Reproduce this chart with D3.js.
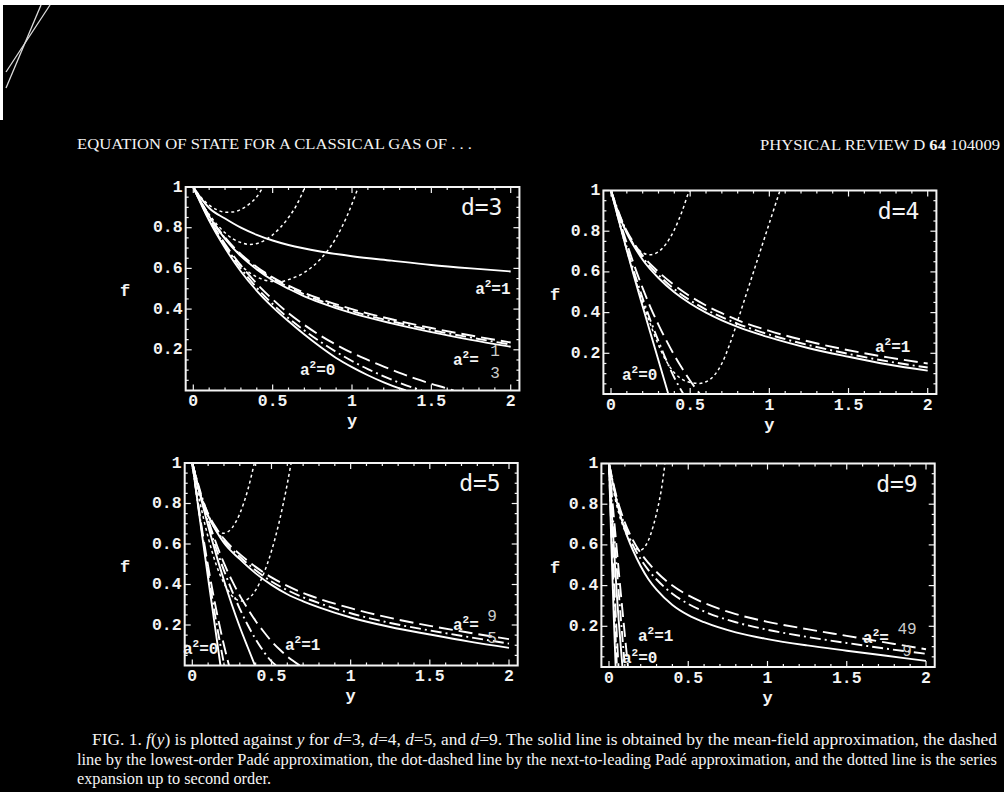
<!DOCTYPE html>
<html><head><meta charset="utf-8">
<script src="https://cdn.jsdelivr.net/npm/d3@7"></script>
<style>html,body{margin:0;padding:0;background:#000;}svg{display:block}</style>
</head><body>
<svg id="c" width="1004" height="792"></svg>
<script>
// ---------- DATA ----------
const panelNames = ["d=3", "d=4", "d=5", "d=9"];
const xTicks = [0, 0.5, 1, 1.5, 2];
const xTickLabels = ["0", "0.5", "1", "1.5", "2"];
const yTicks = [0.2, 0.4, 0.6, 0.8, 1];
const yTickLabels = ["0.2", "0.4", "0.6", "0.8", "1"];

// d = 3
const d3_a1_solid = [[0,1],[0.05,0.943],[0.1,0.897],[0.2,0.845],[0.3,0.8],[0.4,0.765],[0.5,0.737],[0.6,0.715],[0.8,0.683],[1,0.66],[1.25,0.638],[1.5,0.617],[1.75,0.6],[2,0.585]];
const d3_a1_series = [[0,1],[0.05,0.948],[0.1,0.911],[0.15,0.888],[0.2,0.876],[0.25,0.877],[0.3,0.89],[0.35,0.915],[0.4,0.952],[0.44,1]];
const d3_a13_solid = [[0,1],[0.05,0.923],[0.1,0.855],[0.2,0.745],[0.3,0.66],[0.4,0.595],[0.5,0.542],[0.6,0.5],[0.7,0.463],[0.8,0.432],[1,0.38],[1.25,0.33],[1.5,0.287],[1.75,0.249],[2,0.215]];
const d3_a13_dash = [[0,1],[0.1,0.858],[0.2,0.752],[0.3,0.67],[0.4,0.607],[0.5,0.556],[0.6,0.515],[0.7,0.48],[0.8,0.45],[1,0.4],[1.25,0.35],[1.5,0.307],[1.75,0.27],[2,0.236]];
const d3_a13_dotdash = [[0,1],[0.1,0.857],[0.2,0.748],[0.3,0.665],[0.4,0.601],[0.5,0.55],[0.6,0.508],[0.7,0.472],[0.8,0.441],[1,0.39],[1.25,0.34],[1.5,0.297],[1.75,0.26],[2,0.226]];
const d3_a13_series = [[0,1],[0.05,0.925],[0.1,0.865],[0.15,0.815],[0.2,0.775],[0.25,0.745],[0.3,0.727],[0.357,0.718],[0.42,0.727],[0.5,0.765],[0.6,0.85],[0.65,0.91],[0.704,1]];
const d3_a0_solid = [[0,1],[0.05,0.915],[0.1,0.835],[0.2,0.7],[0.3,0.585],[0.4,0.49],[0.5,0.41],[0.6,0.34],[0.7,0.275],[0.8,0.215],[0.9,0.16],[1,0.115],[1.1,0.075],[1.2,0.04],[1.3,0.01],[1.34,0]];
const d3_a0_dotdash = [[0,1],[0.1,0.84],[0.2,0.71],[0.3,0.6],[0.4,0.505],[0.5,0.425],[0.6,0.355],[0.7,0.295],[0.8,0.24],[0.9,0.19],[1,0.145],[1.1,0.105],[1.2,0.07],[1.3,0.038],[1.4,0.01],[1.44,0]];
const d3_a0_dash = [[0,1],[0.1,0.845],[0.2,0.72],[0.3,0.615],[0.4,0.525],[0.5,0.448],[0.6,0.38],[0.7,0.322],[0.8,0.27],[0.9,0.225],[1,0.185],[1.1,0.15],[1.2,0.117],[1.3,0.087],[1.4,0.058],[1.5,0.033],[1.6,0.01],[1.64,0]];
const d3_a0_series = [[0,1],[0.1,0.84],[0.2,0.71],[0.3,0.615],[0.4,0.558],[0.5,0.536],[0.55,0.535],[0.6,0.545],[0.7,0.58],[0.8,0.645],[0.9,0.75],[0.97,0.86],[1.04,1]];

// d = 4
const d4_a1_solid = [[0,1],[0.05,0.88],[0.1,0.79],[0.15,0.72],[0.2,0.66],[0.3,0.57],[0.4,0.5],[0.5,0.445],[0.6,0.4],[0.7,0.362],[0.8,0.33],[1,0.278],[1.25,0.225],[1.5,0.183],[1.75,0.145],[2,0.115]];
const d4_a1_dash = [[0,1],[0.05,0.885],[0.1,0.8],[0.15,0.735],[0.2,0.68],[0.3,0.6],[0.4,0.535],[0.5,0.48],[0.6,0.435],[0.7,0.397],[0.8,0.363],[1,0.31],[1.25,0.258],[1.5,0.215],[1.75,0.18],[2,0.15]];
const d4_a1_dotdash = [[0,1],[0.1,0.795],[0.2,0.67],[0.3,0.585],[0.4,0.515],[0.5,0.46],[0.6,0.415],[0.8,0.345],[1,0.292],[1.25,0.24],[1.5,0.197],[1.75,0.16],[2,0.13]];
const d4_a1_series = [[0,1],[0.05,0.885],[0.1,0.795],[0.15,0.73],[0.2,0.694],[0.246,0.684],[0.3,0.699],[0.35,0.74],[0.4,0.807],[0.45,0.9],[0.49,0.99],[0.495,1]];
const d4_a0_solid = [[0,1],[0.05,0.85],[0.1,0.705],[0.15,0.565],[0.2,0.43],[0.25,0.297],[0.3,0.165],[0.362,0]];
const d4_a0_dotdash = [[0,1],[0.05,0.855],[0.1,0.72],[0.15,0.59],[0.2,0.47],[0.25,0.36],[0.3,0.26],[0.35,0.165],[0.4,0.08],[0.457,0]];
const d4_a0_dash = [[0,1],[0.05,0.865],[0.1,0.74],[0.15,0.625],[0.2,0.52],[0.25,0.425],[0.3,0.34],[0.35,0.262],[0.4,0.19],[0.45,0.125],[0.5,0.065],[0.562,0]];
const d4_a0_series = [[0,1],[0.1,0.705],[0.2,0.45],[0.25,0.34],[0.3,0.24],[0.35,0.16],[0.4,0.105],[0.45,0.072],[0.5,0.057],[0.56,0.052],[0.6,0.06],[0.65,0.09],[0.7,0.15],[0.75,0.245],[0.8,0.36],[0.85,0.48],[0.9,0.6],[0.95,0.72],[1,0.84],[1.067,1]];

// d = 5
const d5_a95_solid = [[0,1],[0.05,0.845],[0.1,0.74],[0.15,0.665],[0.2,0.605],[0.3,0.525],[0.4,0.455],[0.5,0.398],[0.6,0.352],[0.7,0.317],[0.8,0.287],[1,0.237],[1.25,0.19],[1.5,0.153],[1.75,0.118],[2,0.087]];
const d5_a95_dash = [[0,1],[0.05,0.85],[0.1,0.75],[0.15,0.68],[0.2,0.625],[0.3,0.55],[0.4,0.487],[0.5,0.435],[0.6,0.393],[0.7,0.358],[0.8,0.33],[1,0.283],[1.25,0.235],[1.5,0.196],[1.75,0.162],[2,0.13]];
const d5_a95_dotdash = [[0,1],[0.1,0.745],[0.2,0.615],[0.3,0.537],[0.4,0.47],[0.5,0.415],[0.6,0.372],[0.7,0.337],[0.8,0.308],[1,0.258],[1.25,0.21],[1.5,0.173],[1.75,0.14],[2,0.108]];
const d5_a95_series = [[0,1],[0.05,0.846],[0.1,0.736],[0.15,0.672],[0.196,0.653],[0.25,0.679],[0.3,0.75],[0.35,0.866],[0.392,1]];
const d5_a1_solid = [[0,1],[0.05,0.84],[0.1,0.69],[0.15,0.55],[0.2,0.42],[0.25,0.3],[0.3,0.19],[0.35,0.09],[0.396,0]];
const d5_a1_dotdash = [[0,1],[0.05,0.845],[0.1,0.705],[0.15,0.58],[0.2,0.47],[0.25,0.37],[0.3,0.28],[0.35,0.2],[0.4,0.13],[0.45,0.07],[0.5,0.02],[0.53,0]];
const d5_a1_dash = [[0,1],[0.05,0.85],[0.1,0.72],[0.15,0.605],[0.2,0.505],[0.25,0.42],[0.3,0.345],[0.35,0.28],[0.4,0.22],[0.45,0.168],[0.5,0.12],[0.55,0.08],[0.6,0.045],[0.68,0]];
const d5_a1_series = [[0,1],[0.05,0.8],[0.1,0.633],[0.15,0.5],[0.2,0.406],[0.25,0.345],[0.312,0.318],[0.35,0.328],[0.4,0.372],[0.45,0.452],[0.5,0.565],[0.55,0.713],[0.6,0.898],[0.624,1]];
const d5_a0_solid = [[0,1],[0.05,0.71],[0.1,0.43],[0.15,0.155],[0.178,0]];
const d5_a0_dotdash = [[0,1],[0.05,0.72],[0.1,0.46],[0.15,0.22],[0.202,0]];
const d5_a0_dash = [[0,1],[0.05,0.73],[0.1,0.49],[0.15,0.28],[0.2,0.1],[0.232,0]];

// d = 9
const d9_a49_solid = [[0,1],[0.025,0.9],[0.05,0.81],[0.1,0.675],[0.15,0.575],[0.2,0.495],[0.25,0.43],[0.3,0.38],[0.4,0.305],[0.5,0.255],[0.6,0.22],[0.8,0.17],[1,0.137],[1.25,0.106],[1.5,0.08],[1.75,0.055],[2,0.03]];
const d9_a49_dash = [[0,1],[0.05,0.83],[0.1,0.71],[0.15,0.625],[0.2,0.56],[0.25,0.51],[0.3,0.467],[0.4,0.4],[0.5,0.352],[0.6,0.315],[0.7,0.285],[0.8,0.26],[1,0.222],[1.25,0.186],[1.5,0.153],[1.75,0.12],[2,0.087]];
const d9_a49_dotdash = [[0,1],[0.05,0.82],[0.1,0.695],[0.15,0.6],[0.2,0.53],[0.25,0.475],[0.3,0.43],[0.4,0.36],[0.5,0.31],[0.6,0.273],[0.8,0.22],[1,0.183],[1.25,0.148],[1.5,0.118],[1.75,0.09],[2,0.065]];
const d9_a49_series = [[0,1],[0.03,0.86],[0.06,0.76],[0.1,0.67],[0.14,0.61],[0.17,0.583],[0.196,0.574],[0.22,0.585],[0.25,0.625],[0.28,0.695],[0.31,0.79],[0.33,0.87],[0.353,1]];
const d9_a0_solid = [[0,1],[0.015,0.6],[0.03,0.25],[0.042,0]];
const d9_a0_dotdash = [[0,1],[0.017,0.62],[0.035,0.27],[0.05,0]];
const d9_a0_dash = [[0,1],[0.02,0.64],[0.04,0.3],[0.06,0]];
const d9_a1_solid = [[0,1],[0.025,0.66],[0.05,0.35],[0.085,0]];
const d9_a1_dotdash = [[0,1],[0.03,0.68],[0.06,0.38],[0.1,0]];
const d9_a1_dash = [[0,1],[0.035,0.7],[0.07,0.4],[0.12,0]];

// text
const headerLeft = "EQUATION OF STATE FOR A CLASSICAL GAS OF . . .";
const captionLine2 = "line by the lowest-order Padé approximation, the dot-dashed line by the next-to-leading Padé approximation, and the dotted line is the series";
const captionLine3 = "expansion up to second order.";

// ---------- TABLES BUILT FROM DATA ----------
const panelCurves = [
  [[d3_a1_series,"dot"],[d3_a13_series,"dot"],[d3_a0_series,"dot"],
   [d3_a1_solid,"solid"],[d3_a13_dash,"dash"],[d3_a13_dotdash,"dotdash"],[d3_a13_solid,"solid"],
   [d3_a0_dash,"dash"],[d3_a0_dotdash,"dotdash"],[d3_a0_solid,"solid"]],
  [[d4_a1_series,"dot"],[d4_a0_series,"dot"],
   [d4_a1_dash,"dash"],[d4_a1_dotdash,"dotdash"],[d4_a1_solid,"solid"],
   [d4_a0_dash,"dash"],[d4_a0_dotdash,"dotdash"],[d4_a0_solid,"solid"]],
  [[d5_a95_series,"dot"],[d5_a1_series,"dot"],
   [d5_a95_dash,"dash"],[d5_a95_dotdash,"dotdash"],[d5_a95_solid,"solid"],
   [d5_a1_dash,"dash"],[d5_a1_dotdash,"dotdash"],[d5_a1_solid,"solid"],
   [d5_a0_dash,"dash"],[d5_a0_dotdash,"dotdash"],[d5_a0_solid,"solid"]],
  [[d9_a49_series,"dot"],
   [d9_a49_dash,"dash"],[d9_a49_dotdash,"dotdash"],[d9_a49_solid,"solid"],
   [d9_a1_dash,"dash"],[d9_a1_dotdash,"dotdash"],[d9_a1_solid,"solid"],
   [d9_a0_dash,"dash"],[d9_a0_dotdash,"dotdash"],[d9_a0_solid,"solid"]]
];
// labels: [text after "a", x, f, numerator, denominator]
const panelLabels = [
  [["=1",1.776,0.473],["=",1.636,0.125,"1","3"],["=0",0.672,0.076]],
  [["=1",1.667,0.207],["=0",0.069,0.069]],
  [["=0",-0.059,0.057],["=1",0.585,0.076],["=",1.646,0.175,"9","5"]],
  [["=1",0.183,0.126],["=0",0.082,0.018],["=",1.603,0.116,"49","9"]]
];

// ---------- LAYOUT ----------
const layout = [
  {x0:193.3, x2:510.7, yTop:187, yBot:390.5, fX:125, fracOff:42},
  {x0:611,   x2:927.7, yTop:190.5, yBot:394, fX:555, fracOff:42},
  {x0:192.3, x2:509,   yTop:463, yBot:665.5, fX:125, fracOff:39},
  {x0:609,   x2:926,   yTop:463.5, yBot:667, fX:555, fracOff:44}
];
const padL = -0.048, padR = 2.055;
const MONO = "'Liberation Mono', 'DejaVu Sans Mono', monospace";
const TITLE = "'DejaVu Sans Mono', 'Liberation Mono', monospace";
const SERIF = "'Liberation Serif', 'Times New Roman', serif";
const INK = "#f4f4f4";
const dashes = {solid:null, dash:"14,6", dotdash:"11,4,2,4", dot:"3,3"};
const widths = {solid:1.9, dash:1.9, dotdash:1.9, dot:1.5};

const svg = d3.select("#c");
svg.append("rect").attr("width",1004).attr("height",792).attr("fill","#000");
// scanner edge
svg.append("rect").attr("x",0).attr("y",0).attr("width",1004).attr("height",5).attr("fill","#fff");
svg.append("rect").attr("x",0).attr("y",0).attr("width",3).attr("height",120).attr("fill","#fff");
svg.append("line").attr("x1",6).attr("y1",88).attr("x2",41).attr("y2",5).attr("stroke","#ddd").attr("stroke-width",1.3);
svg.append("line").attr("x1",6).attr("y1",72).attr("x2",50).attr("y2",5).attr("stroke","#ddd").attr("stroke-width",1.3);

// header
svg.append("text").attr("x",77).attr("y",149).attr("font-family",SERIF).attr("font-size",15.5)
  .attr("fill",INK).attr("textLength",395).attr("lengthAdjust","spacingAndGlyphs").text(headerLeft);
const hr = svg.append("text").attr("x",760).attr("y",150).attr("font-family",SERIF).attr("font-size",15.5)
  .attr("fill",INK).attr("textLength",240).attr("lengthAdjust","spacingAndGlyphs");
hr.append("tspan").text("PHYSICAL REVIEW D ");
hr.append("tspan").attr("font-weight","bold").text("64");
hr.append("tspan").text(" 104009");

layout.forEach((L, i) => {
  const x = d3.scaleLinear().domain([0,2]).range([L.x0, L.x2]);
  const y = d3.scaleLinear().domain([0,1]).range([L.yBot, L.yTop]);
  const left = x(padL), right = x(padR);
  const g = svg.append("g");
  const cid = "clip"+i;
  svg.append("clipPath").attr("id",cid).append("rect")
    .attr("x",left).attr("y",L.yTop).attr("width",right-left).attr("height",L.yBot-L.yTop);

  // curves
  const line = d3.line().x(d=>x(d[0])).y(d=>y(d[1])).curve(d3.curveMonotoneX);
  const cg = g.append("g").attr("clip-path",`url(#${cid})`);
  panelCurves[i].forEach(([data, style]) => {
    cg.append("path").attr("d", line(data)).attr("fill","none").attr("stroke","#fff")
      .attr("stroke-width", widths[style]).attr("stroke-dasharray", dashes[style])
      .attr("stroke-linejoin","round");
  });

  // frame
  g.append("rect").attr("x",left).attr("y",L.yTop).attr("width",right-left).attr("height",L.yBot-L.yTop)
    .attr("fill","none").attr("stroke",INK).attr("stroke-width",2);

  // ticks
  const tk = g.append("g").attr("stroke",INK).attr("stroke-width",1.2);
  d3.range(0, 2.0001, 0.1).forEach(v => {
    const major = Math.abs(v*2 - Math.round(v*2)) < 1e-6;
    const len = major ? 6 : 3;
    tk.append("line").attr("x1",x(v)).attr("x2",x(v)).attr("y1",L.yBot).attr("y2",L.yBot-len);
    tk.append("line").attr("x1",x(v)).attr("x2",x(v)).attr("y1",L.yTop).attr("y2",L.yTop+len);
  });
  d3.range(0.05, 1.0001, 0.05).forEach(v => {
    const major = Math.abs(v*5 - Math.round(v*5)) < 1e-6;
    const len = major ? 6 : 3;
    tk.append("line").attr("y1",y(v)).attr("y2",y(v)).attr("x1",left).attr("x2",left+len);
    tk.append("line").attr("y1",y(v)).attr("y2",y(v)).attr("x1",right).attr("x2",right-len);
  });

  // tick labels
  xTicks.forEach((v,k) => {
    g.append("text").attr("x",x(v)).attr("y",L.yBot+11).attr("text-anchor","middle")
      .attr("dominant-baseline","central").attr("font-family",MONO).attr("font-size",16.5)
      .attr("font-weight","bold").attr("fill",INK).text(xTickLabels[k]);
  });
  yTicks.forEach((v,k) => {
    g.append("text").attr("x",left-3).attr("y",y(v)).attr("text-anchor","end")
      .attr("dominant-baseline","central").attr("font-family",MONO).attr("font-size",16.5)
      .attr("font-weight","bold").attr("fill",INK).text(yTickLabels[k]);
  });
  // axis titles
  g.append("text").attr("x",L.fX).attr("y",(L.yTop+L.yBot)/2+3).attr("text-anchor","middle")
    .attr("dominant-baseline","central").attr("font-family",MONO).attr("font-size",17)
    .attr("font-weight","bold").attr("fill",INK).text("f");
  g.append("text").attr("x",x(1)).attr("y",L.yBot+31).attr("text-anchor","middle")
    .attr("dominant-baseline","central").attr("font-family",MONO).attr("font-size",17)
    .attr("font-weight","bold").attr("fill",INK).text("y");
  // panel title
  g.append("text").attr("x",right-17).attr("y",L.yTop+28).attr("text-anchor","end")
    .attr("font-family",TITLE).attr("font-size",23).attr("fill",INK).text(panelNames[i]);

  // curve labels
  panelLabels[i].forEach(lb => {
    const [rest, lx, lf, num, den] = lb;
    const px = x(lx), py = y(lf);
    const t = g.append("text").attr("x",px).attr("y",py).attr("font-family",MONO)
      .attr("font-size",16).attr("font-weight","bold").attr("fill",INK);
    t.append("tspan").text("a");
    t.append("tspan").attr("font-size",11).attr("dy",-7).text("2");
    t.append("tspan").attr("dy",7).text(rest);
    if (num) {
      g.append("text").attr("x",px+L.fracOff).attr("y",py-9).attr("text-anchor","middle")
        .attr("font-family",MONO).attr("font-size",16).attr("fill","#ccc").text(num);
      g.append("text").attr("x",px+L.fracOff).attr("y",py+13).attr("text-anchor","middle")
        .attr("font-family",MONO).attr("font-size",16).attr("fill","#ccc").text(den);
    }
  });
});

// caption
const c1 = svg.append("text").attr("x",92).attr("y",745).attr("font-family",SERIF).attr("font-size",16)
  .attr("fill",INK).attr("textLength",905).attr("lengthAdjust","spacingAndGlyphs");
[["FIG. 1. ",0],["f",1],["(",0],["y",1],[") is plotted against ",0],["y",1],[" for ",0],["d",1],["=3, ",0],
 ["d",1],["=4, ",0],["d",1],["=5, and ",0],["d",1],["=9. The solid line is obtained by the mean-field approximation, the dashed",0]]
 .forEach(([s,it]) => { const ts = c1.append("tspan").text(s); if (it) ts.attr("font-style","italic"); });
svg.append("text").attr("x",77).attr("y",765).attr("font-family",SERIF).attr("font-size",16)
  .attr("fill",INK).attr("textLength",920).attr("lengthAdjust","spacingAndGlyphs").text(captionLine2);
svg.append("text").attr("x",77).attr("y",784).attr("font-family",SERIF).attr("font-size",16)
  .attr("fill",INK).attr("textLength",194).attr("lengthAdjust","spacingAndGlyphs").text(captionLine3);
</script>
</body></html>
